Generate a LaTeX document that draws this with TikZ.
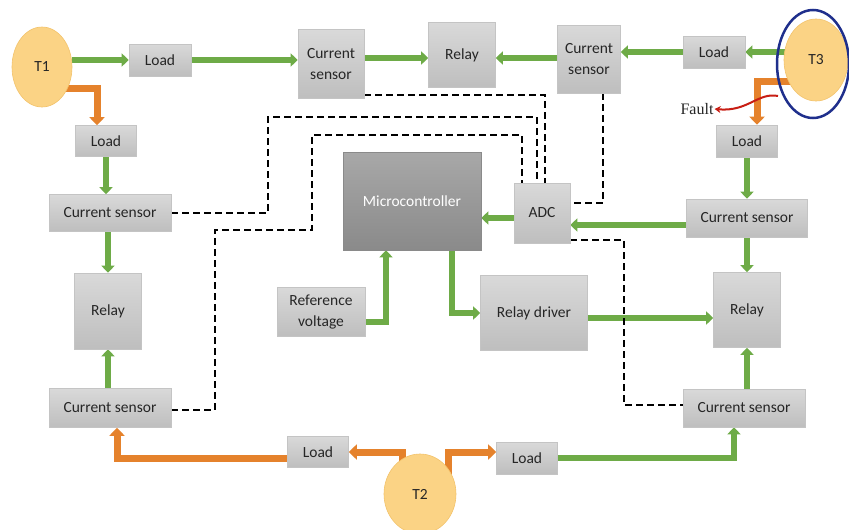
\documentclass[tikz,border=0pt]{standalone}
\usepackage{fontspec}
\setmainfont{Carlito}
\newfontfamily\faultfont{Liberation Serif}
\usetikzlibrary{arrows.meta,shapes.geometric,backgrounds}
\definecolor{gr}{HTML}{6EAB47}
\definecolor{orn}{HTML}{E5822C}
\definecolor{boxtop}{HTML}{D9D9D9}
\definecolor{boxbot}{HTML}{BEBEBE}
\definecolor{boxline}{HTML}{C4C4C4}
\definecolor{mctop}{HTML}{A8A8A8}
\definecolor{mcbot}{HTML}{8A8A8A}
\definecolor{txt}{HTML}{262626}
\definecolor{tfill}{HTML}{FBD385}
\definecolor{tline}{HTML}{F3C36C}
\definecolor{ring}{HTML}{1F2F8C}
\definecolor{faultred}{HTML}{C81E14}
\begin{document}
\begin{tikzpicture}[x=1pt,y=-1pt,
  box/.style={draw=boxline,line width=0.6pt,top color=boxtop,bottom color=boxbot,
    inner sep=1pt,align=center,text=txt,font=\fontsize{15.5}{21}\selectfont},
  term/.style={ellipse,draw=tline,line width=0.6pt,fill=tfill,inner sep=0pt,
    text=txt,font=\fontsize{15.5}{19}\selectfont},
  garrow/.style={draw=gr,line width=5.5pt,-{Triangle[width=13pt,length=7pt]}},
  oarrow/.style={draw=orn,line width=7pt,-{Triangle[width=15pt,length=8pt]}},
  sig/.style={draw=black,line width=2.2pt,dash pattern=on 7pt off 4pt}]
\useasboundingbox (0,0) rectangle (849,530);

% terminals
\node[term,minimum width=60pt,minimum height=80pt] (t1) at (42,67) {T1};
\node[term,minimum width=64pt,minimum height=82pt] (t3) at (816,60) {T3};
\node[term,minimum width=72pt,minimum height=80pt] (t2) at (420,494) {T2};

% top row
\node[box,minimum width=62pt,minimum height=32pt] (ld1) at (160,60) {Load};
\node[box,minimum width=66pt,minimum height=69pt] (cst) at (331,64) {Current\\sensor};
\node[box,minimum width=67pt,minimum height=65pt] (rlt) at (462,55) {Relay};
\node[box,minimum width=63pt,minimum height=68pt] (cstr) at (589,59) {Current\\sensor};
\node[box,minimum width=62pt,minimum height=32pt] (ldtr) at (714,52) {Load};

% left column
\node[box,minimum width=61pt,minimum height=31pt] (ldl) at (106,141) {Load};
\node[box,minimum width=122pt,minimum height=37pt] (csl1) at (110,213) {Current sensor};
\node[box,minimum width=67pt,minimum height=76pt] (rll) at (108,311) {Relay};
\node[box,minimum width=122pt,minimum height=39pt] (csl2) at (110,408) {Current sensor};

% right column
\node[box,minimum width=61pt,minimum height=32pt] (ldr) at (747,141) {Load};
\node[box,minimum width=121pt,minimum height=38pt] (csr1) at (747,218) {Current sensor};
\node[box,minimum width=67pt,minimum height=75pt] (rlr) at (747,310) {Relay};
\node[box,minimum width=122pt,minimum height=38pt] (csrb) at (744,408) {Current sensor};

% bottom loads
\node[box,minimum width=61pt,minimum height=31pt] (ldbl) at (318,452) {Load};
\node[box,minimum width=61pt,minimum height=32pt] (ldbr) at (527,458) {Load};

% centre
\node[draw=mcbot,line width=0.6pt,top color=mctop,bottom color=mcbot,
  minimum width=138pt,minimum height=98pt,text=white,
  font=\fontsize{15.5}{19}\selectfont] (mc) at (412,201) {Microcontroller};
\node[box,minimum width=56pt,minimum height=60pt] (adc) at (542,213) {ADC};
\node[box,minimum width=88pt,minimum height=49pt] (ref) at (321,312) {Reference\\voltage};
\node[box,minimum width=107pt,minimum height=75pt] (rd) at (534,313) {Relay driver};

% fault label
\node[font=\faultfont\fontsize{16}{18}\selectfont,text=txt,inner sep=1pt] (fault) at (697,109) {Fault};
\coordinate (fs) at (778,96);

\begin{scope}[on background layer]
\fill[white] (0,0) rectangle (849,530);
% green power paths
\draw[garrow] (ld1.west -| t1.east) -- (ld1.west);
\draw[garrow] (ld1.east) -- (ld1.east -| cst.west);
\draw[garrow] (cst.east |- 0,58) -- (rlt.west |- 0,58);
\draw[garrow] (cstr.west |- 0,58) -- (rlt.east |- 0,58);
\draw[garrow] (ldtr.west) -- (ldtr.west -| cstr.east);
\draw[garrow] (ldtr.east -| t3.center) -- (ldtr.east);
\draw[garrow] (ldl.south) -- (ldl.south |- csl1.north);
\draw[garrow] (rll.north |- csl1.south) -- (rll.north);
\draw[garrow] (rll.south |- csl2.north) -- (rll.south);
\draw[garrow] (ldr.south) -- (ldr.south |- csr1.north);
\draw[garrow] (rlr.north |- csr1.south) -- (rlr.north);
\draw[garrow] (rlr.south |- csrb.north) -- (rlr.south);
\draw[garrow] (ldbr.east) -| ([xshift=-10pt]csrb.south);
\draw[garrow] (csr1.west |- 0,225) -- (adc.east |- 0,225);
\draw[garrow] (adc.west |- 0,218) -- (mc.east |- 0,218);
\draw[garrow] (ref.east |- 0,322) -| (mc.south -| 386,0);
\draw[garrow] (mc.south -| 452,0) |- (rd.west |- 0,313);
\draw[garrow] (rd.east |- 0,318) -- (rlr.west |- 0,318);
% orange source paths
\draw[oarrow] (t1.center |- 0,88) -| (ldl.north -| 97,0);
\draw[oarrow] (t3.center |- 0,81) -| (ldr.north -| 757,0);
\draw[oarrow] (t2.center -| 402,0) |- (ldbl.east);
\draw[oarrow] (ldbl.west |- 0,458) -| (csl2.south -| 117,0);
\draw[oarrow] (t2.center -| 448,0) |- (ldbr.west |- 0,452);
% dashed sensing lines
\draw[sig] (cst.east |- 0,95) -| (adc.north -| 545,0);
\draw[sig] (csl1.east) -| (268,117) -| (adc.north -| 537,0);
\draw[sig] (csl2.east |- 0,410) -| (215,230) -| (312,135) -| (adc.north -| 522,0);
\draw[sig] (cstr.south -| 603,0) |- (adc.east |- 0,203);
\draw[sig] (adc.east |- 0,240) -| (624,405) -- (csrb.west |- 0,405);
\end{scope}

% fault arrow and ring
\draw[faultred,line width=2pt,-{Stealth[length=6pt,width=7pt]}] (fs) .. controls (758,92) and (748,112) .. (fault.east);
\node[ellipse,draw=ring,line width=2.5pt,minimum width=72pt,minimum height=108pt] (t3ring) at (813,64) {};
\end{tikzpicture}
\end{document}
